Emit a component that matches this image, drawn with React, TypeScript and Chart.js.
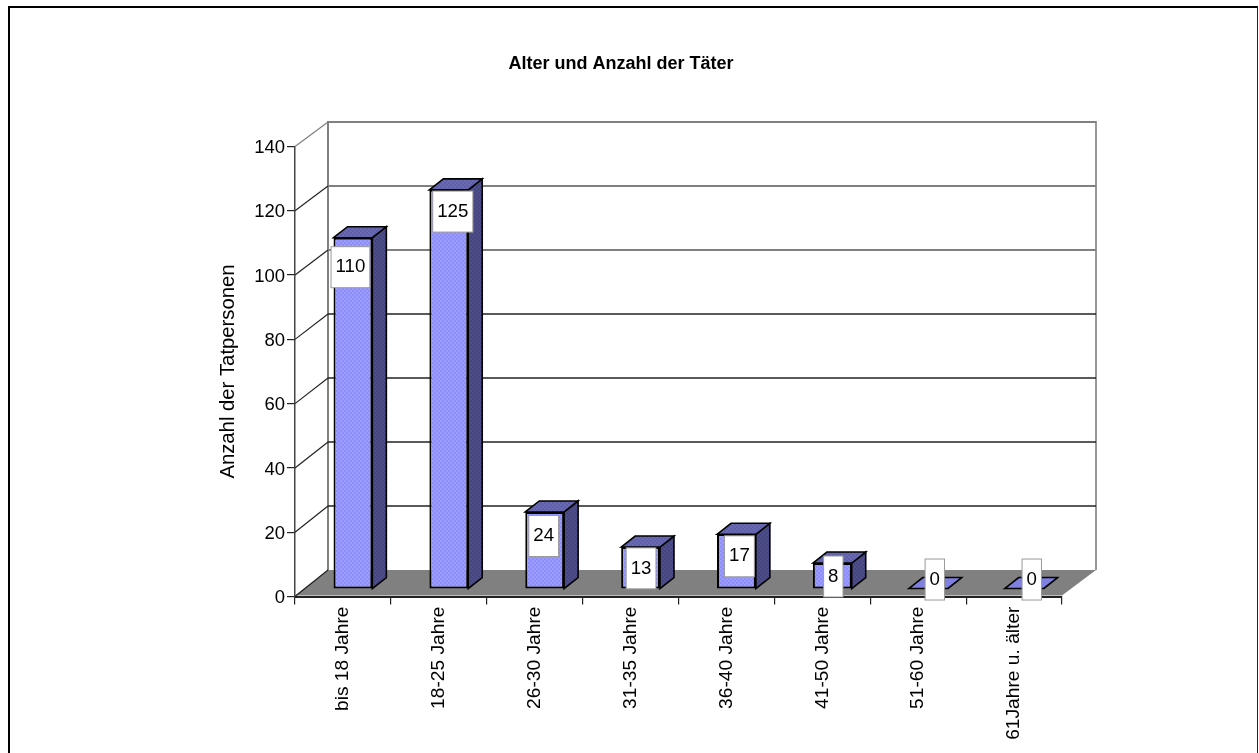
import React, { useEffect, useRef } from "react";
import { Chart, registerables } from "chart.js";

Chart.register(...registerables);

const ageGroups = [
  "bis 18 Jahre",
  "18-25 Jahre",
  "26-30 Jahre",
  "31-35 Jahre",
  "36-40 Jahre",
  "41-50 Jahre",
  "51-60 Jahre",
  "61Jahre u. älter",
];
const offenders = [110, 125, 24, 13, 17, 8, 0, 0];
const gridValues = [0, 20, 40, 60, 80, 100, 120, 140];

const chartTitle = "Alter und Anzahl der Täter";
const yAxisTitle = "Anzahl der Tatpersonen";

const FONT = '"Liberation Sans", Arial, sans-serif';
const TEXT_SIZE = 18.7;

// Depth of the floor/back wall and of the bars, in pixels.
const WALL_DX = 33;
const WALL_DY_BOTTOM = 26.5;
const WALL_DY_TOP = 24.5;
const BAR_INSET_X = 10;
const BAR_DX = 14;
const BAR_DY = 11;

// Hand placement of each value box relative to the top centre of its bar.
const labelNudgeX = [-2.5, 4, -1, 0.5, 3, 1, 6.6, 7.7];
const labelNudgeY = [29.5, 21.7, 24, 21.3, 22, 13.5, -9, -9];

function dotted(base: string, dot: string): CanvasPattern {
  const tile = document.createElement("canvas");
  tile.width = 4;
  tile.height = 4;
  const c = tile.getContext("2d")!;
  c.fillStyle = base;
  c.fillRect(0, 0, 4, 4);
  c.fillStyle = dot;
  c.fillRect(0, 0, 2, 2);
  c.fillRect(2, 2, 2, 2);
  return c.createPattern(tile, "repeat")!;
}

function polygon(ctx: CanvasRenderingContext2D, pts: number[][], fill: any, stroke?: string, lw = 1) {
  ctx.beginPath();
  pts.forEach(([x, y], i) => (i ? ctx.lineTo(x, y) : ctx.moveTo(x, y)));
  ctx.closePath();
  if (fill) {
    ctx.fillStyle = fill;
    ctx.fill();
  }
  if (stroke) {
    ctx.strokeStyle = stroke;
    ctx.lineWidth = lw;
    ctx.lineJoin = "miter";
    ctx.stroke();
  }
}

function line(ctx: CanvasRenderingContext2D, x1: number, y1: number, x2: number, y2: number, color: string, lw: number) {
  ctx.beginPath();
  ctx.moveTo(x1, y1);
  ctx.lineTo(x2, y2);
  ctx.strokeStyle = color;
  ctx.lineWidth = lw;
  ctx.stroke();
}

// Floor, back wall and perspective grid lines behind the bars.
const roomPlugin = {
  id: "room",
  beforeDatasetsDraw(chart: any) {
    const { ctx, chartArea: a } = chart;
    const y = chart.scales.y;
    const backX = a.left + WALL_DX;
    const backRight = a.right + WALL_DX + 1;
    const backY = (v: number) => {
      const dy = WALL_DY_BOTTOM + ((WALL_DY_TOP - WALL_DY_BOTTOM) * v) / 140;
      return y.getPixelForValue(v) - dy;
    };
    ctx.save();
    polygon(
      ctx,
      [
        [a.left, a.bottom - 1],
        [backX, backY(0)],
        [backRight, backY(0)],
        [a.right, a.bottom - 1],
      ],
      "#808080"
    );
    line(ctx, backX, backY(140) - 1, backX, backY(0), "#808080", 2);
    line(ctx, backRight, backY(140) - 1, backRight, backY(0), "#999999", 2);
    gridValues.forEach((v) => {
      const strong = v < 100;
      const front = y.getPixelForValue(v);
      if (v > 0) {
        line(ctx, backX, backY(v), backRight, backY(v), strong ? "#222222" : "#808080", strong ? 1.4 : 2);
      }
      line(ctx, a.left, front, backX, backY(v), v === 140 ? "#808080" : "#222222", 1.2);
    });
    ctx.restore();
  },
  // Bars sit inside the room, so they are shifted off the front plane.
  beforeDatasetDraw(chart: any, args: any) {
    const { ctx } = chart;
    const side = (chart as any).$sideFill;
    const top = (chart as any).$topFill;
    ctx.save();
    ctx.translate(BAR_INSET_X, 0);
    args.meta.data.forEach((bar: any) => {
      const { x, y, base, width } = bar.getProps(["x", "y", "base", "width"], true);
      const l = x - width / 2;
      const r = x + width / 2;
      polygon(
        ctx,
        [
          [r, y],
          [r + BAR_DX, y - BAR_DY],
          [r + BAR_DX, base - BAR_DY],
          [r, base],
        ],
        side,
        "#000000",
        1.6
      );
      polygon(
        ctx,
        [
          [l, y],
          [l + BAR_DX, y - BAR_DY],
          [r + BAR_DX, y - BAR_DY],
          [r, y],
        ],
        base - y < 1 ? "#8080E0" : top,
        "#000000",
        1.6
      );
    });
  },
  afterDatasetDraw(chart: any) {
    chart.ctx.restore();
  },
  // White value boxes on top of the bars.
  afterDatasetsDraw(chart: any) {
    const { ctx } = chart;
    const bars = chart.getDatasetMeta(0).data;
    ctx.save();
    ctx.font = `${TEXT_SIZE}px ${FONT}`;
    ctx.textAlign = "center";
    ctx.textBaseline = "middle";
    bars.forEach((bar: any, i: number) => {
      const { x, y } = bar.getProps(["x", "y"], true);
      const cx = x + BAR_INSET_X + labelNudgeX[i];
      const cy = y + labelNudgeY[i];
      const text = String(offenders[i]);
      const w = ctx.measureText(text).width + 9;
      ctx.fillStyle = "#ffffff";
      ctx.fillRect(cx - w / 2, cy - 20.5, w, 41);
      ctx.strokeStyle = "#9a9a9a";
      ctx.lineWidth = 1;
      ctx.strokeRect(cx - w / 2, cy - 20.5, w, 41);
      ctx.fillStyle = "#000000";
      ctx.fillText(text, cx, cy);
    });
    ctx.restore();
  },
};

export default function App() {
  const canvasRef = useRef<HTMLCanvasElement | null>(null);

  useEffect(() => {
    const chart: any = new Chart(canvasRef.current!, {
      type: "bar",
      data: {
        labels: ageGroups,
        datasets: [
          {
            data: offenders,
            xAxisID: "x",
            yAxisID: "yBar",
            backgroundColor: dotted("#9C9CFF", "#8E8EFA"),
            borderColor: "#000000",
            borderWidth: 2,
            borderSkipped: false,
            barPercentage: 0.405,
            categoryPercentage: 1,
            clip: false,
          } as any,
        ],
      },
      options: {
        animation: false,
        responsive: false,
        events: [],
        layout: { padding: { left: 180, right: 197, top: 0, bottom: 0 } },
        plugins: {
          legend: { display: false },
          tooltip: { enabled: false },
          title: {
            display: true,
            text: chartTitle,
            color: "#000000",
            font: { family: FONT, size: 18, weight: "bold", lineHeight: 1.2 },
            padding: { top: 53, bottom: 71.9 },
          },
        },
        scales: {
          x: {
            offset: true,
            afterFit: (s: any) => {
              s.height = 156.5;
            },
            grid: { offset: true, drawOnChartArea: false, tickLength: 8, color: "#222222", lineWidth: 1.2 },
            border: { color: "#222222", width: 2 },
            ticks: {
              minRotation: 90,
              maxRotation: 90,
              autoSkip: false,
              padding: 2,
              color: "#000000",
              font: { family: FONT, size: 19.2 },
            },
          },
          y: {
            min: 0,
            max: 140,
            afterFit: (s: any) => {
              s.width = 115;
            },
            grid: { drawOnChartArea: false, tickLength: 8, color: "#222222", lineWidth: 1.2 },
            border: { color: "#444444", width: 1.5 },
            ticks: {
              stepSize: 20,
              padding: 2,
              labelOffset: 1.5,
              color: "#000000",
              font: { family: FONT, size: 18.5 },
            },
            title: {
              display: true,
              text: yAxisTitle,
              color: "#000000",
              font: { family: FONT, size: 20.3, lineHeight: 1.2 },
              padding: { top: 36, bottom: 0 },
            },
          },
          // Bars stand further back, where one unit is a little shorter.
          yBar: { display: false, min: -2.5, max: 138.6 },
        },
      },
      plugins: [roomPlugin],
    } as any);
    chart.$sideFill = dotted("#4E4E8C", "#46467E");
    chart.$topFill = dotted("#6A6AB4", "#6060A8");
    chart.update();
    return () => chart.destroy();
  }, []);

  return (
    <div style={{ position: "fixed", inset: 0, background: "#ffffff", overflow: "hidden" }}>
      <div
        style={{
          position: "absolute",
          left: 8,
          top: 6,
          width: 1250,
          height: 900,
          boxSizing: "border-box",
          borderTop: "2px solid #000000",
          borderLeft: "2px solid #000000",
          borderRight: "1px solid #222222",
        }}
      />
      <canvas ref={canvasRef} width={1259} height={753} style={{ position: "absolute", left: 0, top: 0 }} />
    </div>
  );
}
